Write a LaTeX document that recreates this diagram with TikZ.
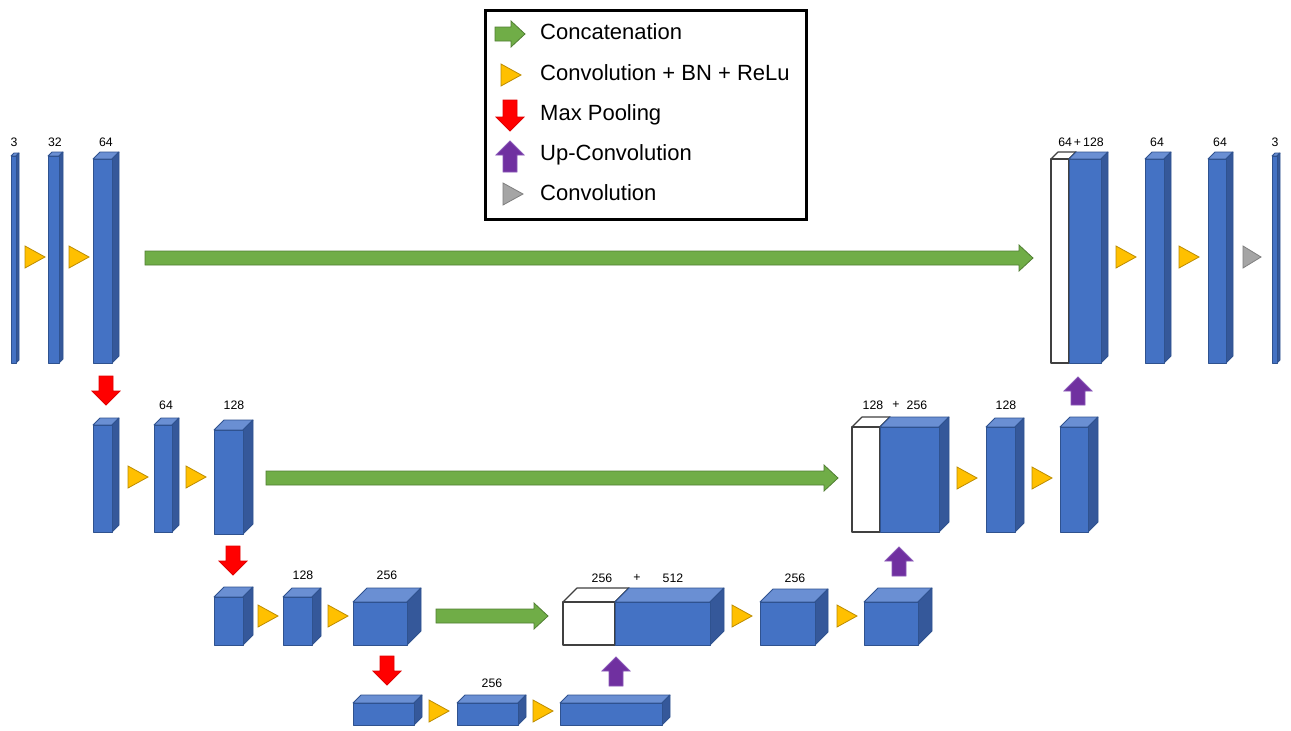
\documentclass[tikz,border=0pt]{standalone}
\usepackage{fontspec}
\setmainfont{Liberation Sans}
\definecolor{bfront}{HTML}{4472C4}
\definecolor{btop}{HTML}{6A8FD3}
\definecolor{bside}{HTML}{35589A}
\definecolor{bedge}{HTML}{2F528F}
\definecolor{gfill}{HTML}{70AD47}
\definecolor{gedge}{HTML}{507E32}
\definecolor{yfill}{HTML}{FFC000}
\definecolor{yedge}{HTML}{BC8C00}
\definecolor{rfill}{HTML}{FF0000}
\definecolor{redge}{HTML}{E00000}
\definecolor{pfill}{HTML}{7030A0}
\definecolor{pedge}{HTML}{8A58B8}
\definecolor{gyfill}{HTML}{A5A5A5}
\definecolor{gyedge}{HTML}{7F7F7F}
\definecolor{wedge}{HTML}{404040}
\tikzset{
  face/.style={line width=0.8pt, line join=round},
  bb top/.style={face, fill=btop, draw=bedge},
  bb side/.style={face, fill=bside, draw=bedge},
  bb front/.style={face, fill=bfront, draw=bedge, inner sep=0pt, outer sep=0pt},
  wb top/.style={face, fill=white, draw=wedge, line width=1.1pt},
  wb side/.style={face, fill=white, draw=wedge, line width=1.1pt},
  wb front/.style={face, fill=white, draw=wedge, line width=1.1pt, inner sep=0pt, outer sep=0pt},
  garrow/.style={fill=gfill, draw=gedge, line width=0.8pt, line join=miter},
  rarrow/.style={fill=rfill, draw=redge, line width=0.8pt, line join=miter},
  parrow/.style={fill=pfill, draw=pedge, line width=0.8pt, line join=miter},
  ytri/.style={fill=yfill, draw=yedge, line width=0.8pt, line join=miter},
  gtri/.style={fill=gyfill, draw=gyedge, line width=0.8pt, line join=miter},
  lbl/.style={font=\fontsize{12.3}{14}\selectfont, inner sep=0pt},
  legtext/.style={font=\fontsize{22}{26}\selectfont, anchor=west, inner sep=0pt, text height=16pt, text depth=4pt},
  legendbox/.style={draw=black, line width=3pt, inner sep=0pt, anchor=north west},
}
% #1 name, #2 x, #3 y (front top), #4 w, #5 h, #6 depth, #7 kind
\newcommand\blk[7]{%
  \filldraw[#7 top] (#2,#3) -- ++(#6,-#6) -- ++(#4,0) -- ++(-#6,#6) -- cycle;
  \filldraw[#7 side] ({#2+#4},#3) -- ++(#6,-#6) -- ++(0,#5) -- ++(-#6,#6) -- cycle;
  \node[#7 front, minimum width=#4pt, minimum height=#5pt, anchor=north west] (#1) at (#2,#3) {};
}
% green arrow: x1, x2, yc
\newcommand\garr[3]{%
  \filldraw[garrow] (#1,{#3-7}) -- ({#2-14},{#3-7}) -- ({#2-14},{#3-13}) -- (#2,#3)
    -- ({#2-14},{#3+13}) -- ({#2-14},{#3+7}) -- (#1,{#3+7}) -- cycle;}
% down arrow: xc, ytop, ybot
\newcommand\darr[3]{%
  \filldraw[rarrow] ({#1-7},#2) -- ({#1+7},#2) -- ({#1+7},{#3-14}) -- ({#1+14},{#3-14})
    -- (#1,#3) -- ({#1-14},{#3-14}) -- ({#1-7},{#3-14}) -- cycle;}
% up arrow: xc, ytop, ybot
\newcommand\uarr[3]{%
  \filldraw[parrow] ({#1-7},#3) -- ({#1+7},#3) -- ({#1+7},{#2+14}) -- ({#1+14},{#2+14})
    -- (#1,#2) -- ({#1-14},{#2+14}) -- ({#1-7},{#2+14}) -- cycle;}
% triangle: style, xl, xr, yc
\newcommand\tri[4]{%
  \filldraw[#1] (#2,{#4-11}) -- (#3,#4) -- (#2,{#4+11}) -- cycle;}
\begin{document}
\begin{tikzpicture}[x=1pt, y=-1pt]
\path[use as bounding box, fill=white] (0,0) rectangle (1291,731);

% ---------- legend ----------
\node[legendbox, minimum width=321pt, minimum height=209pt] (legend) at (484,9) {};
\garr{495}{525}{34}
\tri{ytri}{501}{521}{75}
\darr{510}{100}{131}
\uarr{510}{141}{172}
\tri{gtri}{503}{523}{194}
\node[legtext] (lg1) at (540,33) {Concatenation};
\node[legtext] (lg2) at (540,74) {Convolution + BN + ReLu};
\node[legtext] (lg3) at (540,114) {Max Pooling};
\node[legtext] (lg4) at (540,154) {Up-Convolution};
\node[legtext] (lg5) at (540,194) {Convolution};

% ---------- top row ----------
\blk{t3}{11}{156}{5}{207}{3}{bb}
\blk{t32}{48}{156}{11}{207}{4}{bb}
\blk{t64}{93}{159}{19}{204}{7}{bb}
\blk{tw64}{1051}{159}{18}{204}{7}{wb}
\blk{t128}{1069}{159}{32}{204}{7}{bb}
\blk{t64r}{1145}{159}{19}{204}{7}{bb}
\blk{t64rr}{1208}{159}{18}{204}{7}{bb}
\blk{t3r}{1272}{156}{5}{207}{3}{bb}
\tri{ytri}{25}{45}{257}
\tri{ytri}{69}{89}{257}
\tri{ytri}{1116}{1136}{257}
\tri{ytri}{1179}{1199}{257}
\tri{gtri}{1243}{1261}{257}
\garr{145}{1033}{258}
\node[lbl] (a1) at (14,142) {3};
\node[lbl] (a2) at (55,142) {32};
\node[lbl] (a3) at (106,142) {64};
\node[lbl] (a4) at (1081,142) {64\,+\,128};
\node[lbl] (a5) at (1157,142) {64};
\node[lbl] (a6) at (1220,142) {64};
\node[lbl] (a7) at (1275,142) {3};

% ---------- middle row ----------
\darr{106}{376}{405}
\blk{m64a}{93}{425}{19}{107}{7}{bb}
\blk{m64b}{154}{425}{18}{107}{7}{bb}
\blk{m128}{214}{430}{29}{104}{10}{bb}
\blk{mw128}{852}{427}{28}{105}{10}{wb}
\blk{m256}{880}{427}{59}{105}{10}{bb}
\blk{m128r}{986}{427}{29}{105}{9}{bb}
\blk{m128rr}{1060}{427}{28}{105}{10}{bb}
\tri{ytri}{128}{148}{477}
\tri{ytri}{186}{206}{477}
\tri{ytri}{957}{977}{478}
\tri{ytri}{1032}{1052}{478}
\garr{266}{838}{478}
\uarr{1078}{377}{405}
\node[lbl] (b1) at (166,405) {64};
\node[lbl] (b2) at (234,405) {128};
\node[lbl] (b3) at (873,405) {128};
\node[lbl] (b4) at (896,405) {+};
\node[lbl] (b5) at (917,405) {256};
\node[lbl] (b6) at (1006,405) {128};

% ---------- bottom row ----------
\darr{233}{546}{575}
\blk{l128a}{214}{597}{29}{48}{10}{bb}
\blk{l128b}{283}{597}{29}{48}{9}{bb}
\blk{l256}{353}{602}{54}{43}{14}{bb}
\blk{lw256}{563}{602}{52}{43}{14}{wb}
\blk{l512}{615}{602}{95}{43}{14}{bb}
\blk{l256r}{760}{602}{55}{43}{13}{bb}
\blk{l256rr}{864}{602}{54}{43}{14}{bb}
\tri{ytri}{258}{278}{616}
\tri{ytri}{328}{348}{616}
\tri{ytri}{732}{752}{616}
\tri{ytri}{837}{857}{616}
\garr{436}{548}{616}
\uarr{899}{547}{576}
\node[lbl] (c1) at (303,575) {128};
\node[lbl] (c2) at (387,575) {256};
\node[lbl] (c3) at (602,578) {256};
\node[lbl] (c4) at (637,578) {+};
\node[lbl] (c5) at (673,578) {512};
\node[lbl] (c6) at (795,578) {256};

% ---------- bottleneck ----------
\darr{387}{656}{685}
\blk{z1}{353}{703}{61}{22}{8}{bb}
\blk{z2}{457}{703}{61}{22}{8}{bb}
\blk{z3}{560}{703}{102}{22}{8}{bb}
\tri{ytri}{429}{449}{711}
\tri{ytri}{533}{553}{711}
\uarr{616}{657}{686}
\node[lbl] (d1) at (492,683) {256};
\end{tikzpicture}
\end{document}
